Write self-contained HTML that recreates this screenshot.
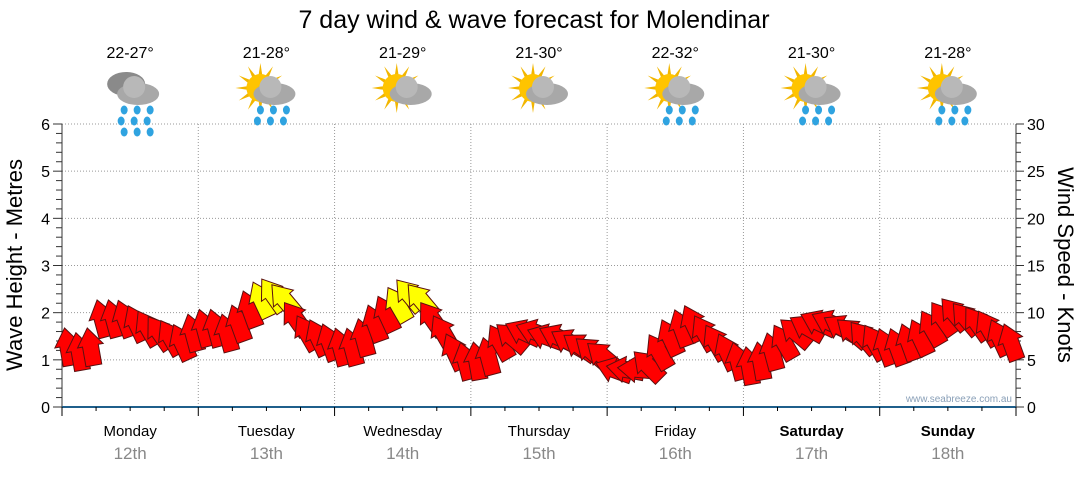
<!DOCTYPE html>
<html><head><meta charset="utf-8">
<style>
body{margin:0;background:#fff;width:1080px;height:475px;overflow:hidden;font-family:"Liberation Sans",sans-serif}
svg text{font-family:"Liberation Sans",sans-serif}
</style></head>
<body>
<svg id="chart" width="1080" height="475">
<text x="534" y="28" text-anchor="middle" font-size="25" fill="#000">7 day wind &amp; wave forecast for Molendinar</text>
<g id="grid"></g>
<g id="axes"></g>
<g id="days"></g>
<g id="arrows"></g>
<text transform="translate(22,265) rotate(-90)" text-anchor="middle" font-size="22">Wave Height - Metres</text>
<text transform="translate(1058,265) rotate(90)" text-anchor="middle" font-size="22">Wind Speed - Knots</text>
<text x="1012" y="402" text-anchor="end" font-size="10" fill="#8aa0b8">www.seabreeze.com.au</text>
</svg>
<script>
const days=["Monday","Tuesday","Wednesday","Thursday","Friday","Saturday","Sunday"];
const dates=["12th","13th","14th","15th","16th","17th","18th"];
const temps=["22-27°","21-28°","21-29°","21-30°","22-32°","21-30°","21-28°"];
const icons=["rain","sunrain","suncloud","suncloud","sunshower","sunrain","sunrain"];
const leftTicks=[0,1,2,3,4,5,6];
const rightTicks=[0,5,10,15,20,25,30];
const waveHeights=[1.3,1.2,1.3,1.9,1.9,1.9,1.8,1.7,1.6,1.5,1.4,1.6,
1.7,1.7,1.6,1.8,2.1,2.3,2.4,2.3,1.9,1.6,1.5,1.4,
1.3,1.3,1.5,1.8,2.0,2.2,2.4,2.3,1.9,1.6,1.2,1.0,
1.0,1.1,1.4,1.5,1.6,1.6,1.5,1.5,1.4,1.3,1.2,1.1,
0.8,0.8,0.8,0.9,1.2,1.5,1.7,1.8,1.6,1.4,1.2,1.0,
0.9,1.0,1.2,1.4,1.6,1.7,1.8,1.8,1.7,1.6,1.5,1.4,
1.3,1.3,1.4,1.5,1.7,1.9,2.0,1.9,1.8,1.7,1.5,1.4];
const windDir=[-10,-10,-10,-15,-15,-20,-25,-30,-35,-30,-25,-15,
-15,-15,-15,-20,-20,-25,-35,-40,-35,-30,-25,-20,
-15,-15,-15,-20,-25,-30,-40,-40,-35,-30,-25,-15,
-10,-15,-30,-50,-65,-70,-70,-65,-60,-55,-50,-50,
-70,-80,-85,-45,-30,-25,-20,-25,-30,-30,-25,-15,
-10,-10,-15,-30,-50,-60,-65,-65,-60,-50,-40,-30,
-20,-20,-20,-25,-30,-35,-40,-40,-35,-30,-25,-20];
const windSpeed=[8,8,9,10,10,10,10,9,9,8,8,9,
9,9,9,10,11,13,13,12,11,10,9,9,
9,9,9,10,11,12,13,12,11,10,9,8,
8,8,9,9,9,9,9,8,8,8,8,8,
7,7,7,8,9,10,10,10,9,9,8,8,
8,8,9,9,10,10,10,10,10,9,9,9,
9,9,9,9,10,10,10,10,10,9,9,9];
const NS="http://www.w3.org/2000/svg";
const X0=62,X1=1016,Y0=407,Y6=124;
const xDay=d=>X0+(X1-X0)*d/7;
const yW=v=>Y0-(Y0-Y6)*v/6;
function mk(t,a,p){const e=document.createElementNS(NS,t);for(const k in a)e.setAttribute(k,a[k]);(p||document.getElementById('chart')).appendChild(e);return e;}
const grid=document.getElementById('grid'),axes=document.getElementById('axes'),dg=document.getElementById('days'),ag=document.getElementById('arrows');
leftTicks.forEach(v=>{if(v>0){const l=mk('line',{x1:X0,x2:X1,y1:yW(v),y2:yW(v),stroke:'#999','stroke-dasharray':'1,2'},grid);

}
const t=mk('text',{x:50,y:yW(v)+6,'text-anchor':'end','font-size':16},axes);t.textContent=v;

});
rightTicks.forEach(v=>{const t=mk('text',{x:1027,y:Y0-(Y0-Y6)*v/30+6,'font-size':16},axes);t.textContent=v;

});
for(let i=0;i<=30;i++){const y=Y0-(Y0-Y6)*i/30;mk('line',{x1:i%5?56:53,x2:62,y1:y,y2:y,stroke:'#333'},axes);mk('line',{x1:1016,x2:i%5?1021:1024,y1:y,y2:y,stroke:'#333'},axes);}
mk('line',{x1:X0,x2:X0,y1:Y6,y2:Y0,stroke:'#333'},axes);
mk('line',{x1:X1,x2:X1,y1:Y6,y2:Y0,stroke:'#333'},axes);
mk('line',{x1:X0,x2:X1,y1:Y0,y2:Y0,stroke:'#1f5f8b','stroke-width':2},axes);
for(let d=0;d<=7;d++){const x=xDay(d);if(d>0&&d<7)mk('line',{x1:x,x2:x,y1:Y6,y2:Y0,stroke:'#999','stroke-dasharray':'1,2'},grid);
mk('line',{x1:x,x2:x,y1:Y0,y2:Y0+9,stroke:'#000'},axes);
if(d<7)for(let q=1;q<4;q++){const xx=x+(X1-X0)/28*q;mk('line',{x1:xx,x2:xx,y1:Y0,y2:Y0+4,stroke:'#000'},axes);}}
function icon(cx,cy,type,p){
 if(type!=='rain'){for(let i=0;i<12;i++){const a=i*Math.PI/6;mk('polygon',{points:`${cx-8+Math.cos(a)*25},${cy-6+Math.sin(a)*25} ${cx-8+Math.cos(a+0.2)*11},${cy-6+Math.sin(a+0.2)*11} ${cx-8+Math.cos(a-0.2)*11},${cy-6+Math.sin(a-0.2)*11}`,fill:'#f2b600'},p);}
 mk('circle',{cx:cx-8,cy:cy-6,r:14,fill:'#ffc400'},p);}
 else{mk('ellipse',{cx:cx-6,cy:cy-10,rx:19,ry:12,fill:'#8a8a8a'},p);}
 mk('ellipse',{cx:cx+6,cy:cy,rx:21,ry:11,fill:'#a8a8a8'},p);
 mk('circle',{cx:cx+2,cy:cy-7,r:11,fill:'#b8b8b8'},p);
 if(type!=='suncloud'){const n=type==='rain'?3:2;for(let r=0;r<n;r++)for(let c=0;c<3;c++)mk('ellipse',{cx:cx-8+c*13-(r%2)*3,cy:cy+16+r*11,rx:3.5,ry:4.5,fill:'#2fa3e0'},p);}
}
days.forEach((d,i)=>{const cx=xDay(i+0.5);
 const t=mk('text',{x:cx,y:58,'text-anchor':'middle','font-size':16},dg);t.textContent=temps[i];
 
 
 const g=mk('g',{},dg);
 
 
 icon(cx+2,94,icons[i],g);
 const dn=mk('text',{x:cx,y:436,'text-anchor':'middle','font-size':15,'font-weight':i>=5?'bold':'normal'},dg);dn.textContent=d;
 
 
 const dt=mk('text',{x:cx,y:459,'text-anchor':'middle','font-size':17,fill:'#888'},dg);dt.textContent=dates[i];
 
 
});
const n=waveHeights.length;
waveHeights.forEach((h,i)=>{const x=X0+(X1-X0)*(i+0.5)/n,y=yW(h);
 const col=windSpeed[i]>=12?'#ffff00':'#ff0000';
 const a=mk('polygon',{points:'-8,20 8,20 8,0 13,0 0,-18 -13,0 -8,0',fill:col,stroke:'#5a1010','stroke-width':1,transform:`translate(${x},${y}) rotate(${windDir[i]})`},ag);
 
 
});
</script>
</body></html>
